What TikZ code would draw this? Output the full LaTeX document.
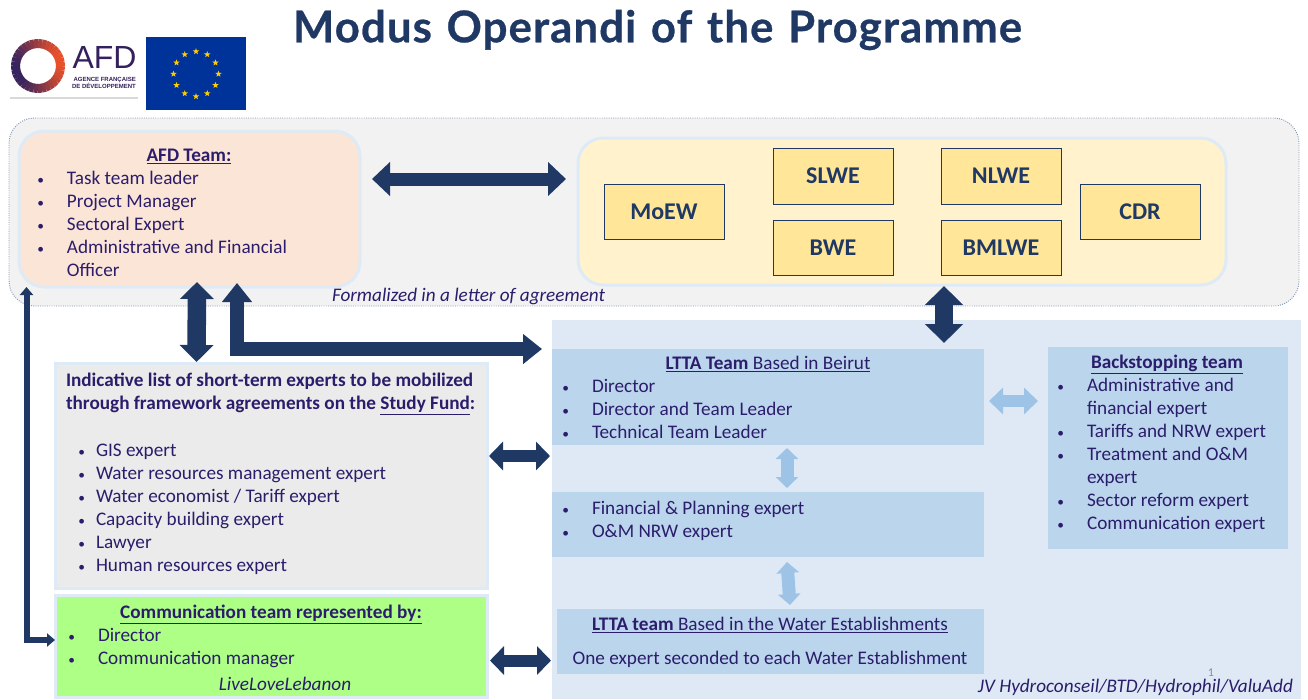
\documentclass[tikz,border=0pt]{standalone}
\usepackage{fontspec}
\setmainfont{Carlito}
\newfontfamily\titlefont[LetterSpace=2.5,WordSpace=1.25,FakeBold=0.6]{Lato}
\newfontfamily\logofont{Liberation Sans}
\usetikzlibrary{arrows.meta,shapes.geometric}
\definecolor{navy}{HTML}{1F3864}
\definecolor{ink}{HTML}{2B1D6B}
\definecolor{edge}{HTML}{DEEBF7}
\definecolor{lightarrow}{HTML}{9DC3E6}
\definecolor{ltta}{HTML}{BBD5ED}
\definecolor{panel}{HTML}{DEE9F5}
\definecolor{peach}{HTML}{FBE5D6}
\definecolor{cream}{HTML}{FFF2CC}
\definecolor{gold}{HTML}{FFE699}
\definecolor{greybox}{HTML}{EBEBEB}
\definecolor{lime}{HTML}{AEFF85}
\definecolor{eublue}{HTML}{003399}
\definecolor{eustar}{HTML}{FFCC00}
\definecolor{ringa}{HTML}{35245F}
\definecolor{ringb}{HTML}{E8502A}
\definecolor{afdink}{HTML}{33205C}
\definecolor{dotline}{HTML}{8497B0}
\newcommand\pbox[7]{%
  \pgfmathsetmacro\pw{(#5-#3)*0.75}\pgfmathsetmacro\ph{(#6-#4)*0.75}%
  \node[#2,anchor=north west,minimum width=\pw pt,minimum height=\ph pt,inner sep=0pt,outer sep=0pt] (#1) at (#3,#4) {#7};}
\newcommand\bl[1][23.25pt]{\strut\makebox[#1][l]{\hspace*{1pt}\scalebox{0.7}{•}}}
\tikzset{
  x=0.75pt,y=-0.75pt,
  stdtext/.style={inner sep=0pt,outer sep=0pt,text=ink,align=left,anchor=north west,font=\fontsize{14.4}{17.25}\selectfont},
  midtext/.style={stdtext,align=center,anchor=north},
  softbox/.style={draw=edge,line width=2.25pt},
  roundbox/.style={softbox,rounded corners=19pt},
  agencybox/.style={fill=gold,draw=navy,line width=0.6pt,font=\fontsize{18}{20}\selectfont\bfseries,text=navy},
  blockarrow/.style n args={3}{draw=navy,line width=#1pt,line join=miter,
    {Triangle[length=#3pt,width=#2pt]}-{Triangle[length=#3pt,width=#2pt]}},
  softarrow/.style n args={3}{blockarrow={#1}{#2}{#3},draw=lightarrow},
}
\begin{document}
\begin{tikzpicture}
\useasboundingbox (0,0) rectangle (1308,699);
% title
\node[inner sep=0pt,text=navy,font=\titlefont\bfseries\fontsize{32.8}{36}\selectfont] (title) at (657.5,30) {Modus Operandi of the Programme};
% logos
\pbox{logoshadow}{fill=black!15}{10}{38}{138}{99}{}
\pbox{afdlogo}{fill=white}{9}{37}{138}{97}{}
\begin{scope}[shift={(38,66)}]
  \foreach \a in {0,10,...,350}{
    \pgfmathsetmacro\mixv{100*(0.5+0.5*cos(\a+20))^1.1}
    \draw[line width=6.75pt,color={ringb!\mixv!ringa}] (\a:22.5) arc[start angle=\a,delta angle=11,radius=22.5];
  }
\end{scope}
\node[inner sep=0pt,text=afdink,font=\logofont\fontsize{24}{24}\selectfont] (afdword) at (104.5,57) {AFD};
\node[inner sep=0pt,text=afdink,align=right,font=\logofont\bfseries\fontsize{4.5}{5.6}\selectfont] (afdsub) at (104,83) {AGENCE FRANÇAISE\\DE DÉVELOPPEMENT};
\pbox{euflag}{fill=eublue}{146}{37}{246}{110}{}
\begin{scope}[shift={(196,74)}]
  \foreach \a in {0,30,...,330}{
    \node[star,star points=5,star point ratio=2.4,fill=eustar,inner sep=0pt,minimum size=5pt] (star\a) at (\a:22.5) {};
  }
\end{scope}
% panels
\pbox{outer}{fill=black!5,draw=dotline,densely dotted,line width=0.7pt,rounded corners=19pt}{9}{118}{1299}{306}{}
\pbox{afd}{roundbox,fill=peach}{19}{131}{360}{287}{}
\pbox{yel}{roundbox,fill=cream}{578}{138}{1226}{285}{}
\pbox{moew}{agencybox}{604}{184}{724}{239}{MoEW}
\pbox{slwe}{agencybox}{773}{148}{893}{204}{SLWE}
\pbox{nlwe}{agencybox}{941}{148}{1061}{204}{NLWE}
\pbox{bwe}{agencybox}{773}{220}{893}{275}{BWE}
\pbox{bmlwe}{agencybox}{941}{220}{1061}{275}{BMLWE}
\pbox{cdr}{agencybox}{1080}{184}{1200}{239}{CDR}
\pbox{list}{softbox,fill=greybox}{55}{363}{487}{588}{}
\pbox{comm}{softbox,fill=lime}{55}{595}{487}{697}{}
\pbox{team}{fill=panel}{552}{320}{1301}{699}{}
\pbox{beirut}{fill=ltta}{552}{349}{984}{445}{}
\pbox{fin}{fill=ltta}{552}{492}{984}{557}{}
\pbox{water}{fill=ltta}{557}{609}{984}{674}{}
\pbox{back}{fill=ltta}{1048}{347}{1288}{549}{}
% connectors
\draw[blockarrow={9.75}{24.75}{13.5}] ([shift={(12,-30)}]afd.east) -- ([shift={(-12,-32.5)}]yel.west);
\draw[blockarrow={13.9}{24.75}{12.75}] ([shift={(7.5,-5)}]afd.south) -- ([shift={(-74.5,-1)}]list.north);
\draw[blockarrow={10.5}{21.75}{14.25}] ([shift={(47.5,-4)}]afd.south) |- ([shift={(-10,-48)}]beirut.west);
\draw[blockarrow={4.5}{9.75}{6}] ([shift={(7.5,0)}]afd.south west) |- ([shift={(0,-6)}]comm.west);
\draw[blockarrow={9}{21}{10.5}] ([shift={(2,-19.5)}]list.east) -- ([shift={(-2,-53.5)}]team.west);
\draw[blockarrow={9}{21}{10.5}] ([shift={(3,14.5)}]comm.east) -- ([shift={(-6,19)}]water.west);
\draw[blockarrow={13.5}{27.75}{14.25}] ([shift={(42,1)}]yel.south) -- ([shift={(-40,-6)}]beirut.north east);
\draw[softarrow={9}{19.5}{10.5}] ([shift={(5,4)}]beirut.east) -- ([shift={(-10,-47)}]back.west);
\draw[softarrow={9.75}{16.5}{8.25}] ([shift={(19,3)}]beirut.south) -- ([shift={(19,-4)}]fin.north);
\draw[softarrow={9.75}{16.5}{8.25}] ([shift={(19,5)}]fin.south) -- ([shift={(19.5,-4)}]water.north);
% texts
\node[midtext] (afdhead) at (189,145) {\strut\underline{\textbf{AFD Team:}}};
\node[stdtext] (afdtext) at (36,168) {\bl Task team leader\\\bl Project Manager\\\bl Sectoral Expert\\\bl Administrative and Financial\\\strut\hspace*{23.25pt}Officer};
\node[stdtext,font=\fontsize{14.4}{17.25}\selectfont\itshape,align=left] (formal) at (332,285) {\strut Formalized in a letter of agreement};
\node[stdtext,font=\fontsize{14.4}{17.25}\selectfont\bfseries] (listhead) at (66,370) {\strut Indicative list of short-term experts to be mobilized\\through framework agreements on the \underline{Study Fund}:};
\node[stdtext] (listtext) at (77,440) {\bl[14.25pt]GIS expert\\\bl[14.25pt]Water resources management expert\\\bl[14.25pt]Water economist / Tariff expert\\\bl[14.25pt]Capacity building expert\\\bl[14.25pt]Lawyer\\\bl[14.25pt]Human resources expert};
\node[midtext] (commhead) at (271,602) {\strut\underline{\textbf{Communication team represented by:}}};
\node[stdtext] (commtext) at (67,625) {\bl Director\\\bl Communication manager};
\node[midtext,font=\fontsize{14.4}{17.25}\selectfont\itshape] (live) at (285,674) {\strut LiveLoveLebanon};
\node[midtext] (beiruthead) at (768,353) {\strut\underline{\textbf{LTTA Team} Based in Beirut}};
\node[stdtext] (beiruttext) at (561,376) {\bl Director\\\bl Director and Team Leader\\\bl Technical Team Leader};
\node[stdtext] (fintext) at (561,498) {\bl Financial \& Planning expert\\\bl O\&M NRW expert};
\node[midtext] (waterhead) at (770,614) {\strut\underline{\textbf{LTTA team} Based in the Water Establishments}};
\node[midtext] (watertext) at (770,648) {\strut One expert seconded to each Water Establishment};
\node[midtext] (backhead) at (1167,352) {\strut\underline{\textbf{Backstopping team}}};
\node[stdtext] (backtext) at (1056,375) {\bl Administrative and\\\strut\hspace*{23.25pt}financial expert\\\bl Tariffs and NRW expert\\\bl Treatment and O\&M\\\strut\hspace*{23.25pt}expert\\\bl Sector reform expert\\\bl Communication expert};
\node[stdtext,anchor=north east,font=\fontsize{14.4}{17.25}\selectfont\itshape,align=right] (jv) at (1293,676) {\strut JV Hydroconseil/BTD/Hydrophil/ValuAdd};
\node[inner sep=0pt,text=black!45,font=\fontsize{9}{10}\selectfont] (pagenum) at (1211,673) {1};
\end{tikzpicture}
\end{document}
